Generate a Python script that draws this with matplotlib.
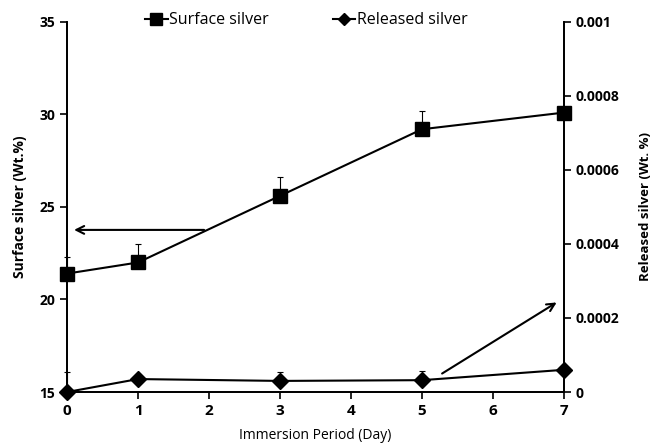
import matplotlib
matplotlib.use('Agg')
import matplotlib.pyplot as plt
from matplotlib.lines import Line2D
import numpy as np

days = [0, 1, 3, 5, 7]
surface = [21.4, 22.0, 25.6, 29.2, 30.1]
surface_err = [0.9, 1.0, 1.0, 1.0, 0.0]
released = [0.0, 0.000035, 0.00003, 0.000032, 0.00006]
released_err = [0.000054, 0.0, 0.000024, 0.000024, 0.0]

plt.rcParams['font.family'] = ['Open Sans', 'DejaVu Sans']
plt.rcParams['font.size'] = 10

fig = plt.figure(figsize=(6.52, 4.47), dpi=100)
ax = fig.add_axes([0.1028, 0.123, 0.7622, 0.828])
ax2 = ax.twinx()

zeros = np.zeros(len(days))
ax.errorbar(days, surface, yerr=[zeros, surface_err], color='black', lw=1.5,
            marker='s', ms=10.5, capsize=2.5, elinewidth=0.8, capthick=0.8,
            clip_on=False, zorder=5)
ax2.errorbar(days, released, yerr=[zeros, released_err], color='black', lw=1.5,
             marker='D', ms=8, capsize=2.5, elinewidth=0.8, capthick=0.8,
             clip_on=False, zorder=5)

ax.set_xlim(0, 7)
ax.set_ylim(15, 35)
ax2.set_ylim(0, 0.001)
ax.set_yticks([15, 20, 25, 30, 35])
ax2.set_yticks([0, 0.0002, 0.0004, 0.0006, 0.0008, 0.001])
ax2.set_yticklabels(['0', '0.0002', '0.0004', '0.0006', '0.0008', '0.001'])
ax.set_xticks(range(8))

for a in (ax, ax2):
    a.spines['top'].set_visible(False)
    for s in a.spines.values():
        s.set_linewidth(1.3)
    a.tick_params(width=1.2, length=5)
    for t in a.get_xticklabels() + a.get_yticklabels():
        t.set_fontweight('bold')
ax.tick_params(axis='x', labelsize=11)

ax.set_xlabel('Immersion Period (Day)', fontsize=10, labelpad=7)
ax.set_ylabel('Surface silver (Wt.%)', fontsize=10, fontweight='bold', labelpad=9)
ax2.set_ylabel('Released silver (Wt. %)', fontsize=9.5, fontweight='bold',
               rotation=90, labelpad=14)

ax.annotate('', xy=(0.06, 23.76), xytext=(1.97, 23.76),
            arrowprops=dict(arrowstyle='->', lw=1.5, color='black', mutation_scale=14))
ax.annotate('', xy=(6.93, 19.92), xytext=(5.25, 15.92),
            arrowprops=dict(arrowstyle='->', lw=1.5, color='black', mutation_scale=14))

h1 = Line2D([], [], color='black', lw=1.5, marker='s', ms=8)
h2 = Line2D([], [], color='black', lw=1.5, marker='D', ms=6)
fig.legend(handles=[h1, h2], labels=['Surface silver', 'Released silver'],
           loc='center', bbox_to_anchor=(0.47, 0.955), ncol=2,
           frameon=False, fontsize=11.5, handlelength=1.4, handletextpad=0.1,
           columnspacing=4.0)

fig.savefig('out.png', dpi=100)
